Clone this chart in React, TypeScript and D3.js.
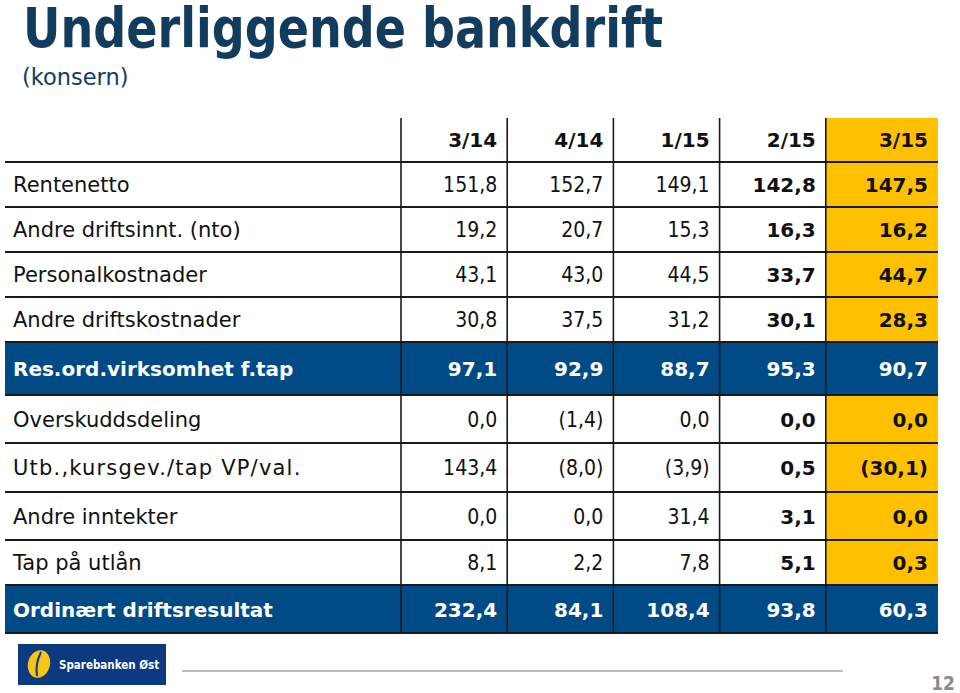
import React from "react";
import * as d3 from "d3";

const periods = ["3/14", "4/14", "1/15", "2/15", "3/15"];
const rowLabels = [
  "Rentenetto",
  "Andre driftsinnt. (nto)",
  "Personalkostnader",
  "Andre driftskostnader",
  "Res.ord.virksomhet f.tap",
  "Overskuddsdeling",
  "Utb.,kursgev./tap VP/val.",
  "Andre inntekter",
  "Tap på utlån",
  "Ordinært driftsresultat",
];
const rentenetto = [151.8, 152.7, 149.1, 142.8, 147.5];
const andreDriftsinnt = [19.2, 20.7, 15.3, 16.3, 16.2];
const personalkostnader = [43.1, 43.0, 44.5, 33.7, 44.7];
const andreDriftskostnader = [30.8, 37.5, 31.2, 30.1, 28.3];
const resOrdVirksomhet = [97.1, 92.9, 88.7, 95.3, 90.7];
const overskuddsdeling = [0.0, -1.4, 0.0, 0.0, 0.0];
const utbKursgev = [143.4, -8.0, -3.9, 0.5, -30.1];
const andreInntekter = [0.0, 0.0, 31.4, 3.1, 0.0];
const tapPaaUtlaan = [8.1, 2.2, 7.8, 5.1, 0.3];
const ordinaertDriftsresultat = [232.4, 84.1, 108.4, 93.8, 60.3];
const rowValues = [
  rentenetto,
  andreDriftsinnt,
  personalkostnader,
  andreDriftskostnader,
  resOrdVirksomhet,
  overskuddsdeling,
  utbKursgev,
  andreInntekter,
  tapPaaUtlaan,
  ordinaertDriftsresultat,
];
const highlightRows = [4, 9];

const locale = d3.formatLocale({ decimal: ",", thousands: " ", grouping: [3], currency: ["", ""] });
const fmt1 = locale.format(".1f");
const fmtVal = (v: number) => (v < 0 ? `(${fmt1(-v)})` : fmt1(v));

const W = 960;
const H = 693;
const NAVY = "#123c5e";
const BLUE = "#004a86";
const YELLOW = "#ffc000";
const SANS = "'DejaVu Sans', sans-serif";
const COND = "'DejaVu Sans Condensed', 'DejaVu Sans', sans-serif";

// layout
const tableLeft = 5;
const tableRight = 938;
const labelRight = 401;
const headerTop = 118;
const rowEdges = [162, 207, 252, 297, 342, 395, 443, 492, 540, 585, 633];
const labelSpacing = [0, 0, 0, 0, 0, 0, 1.2, 0, 0, 0];

export default function App() {
  const x = d3.scaleBand<string>().domain(periods).range([labelRight, 932]).paddingInner(0).paddingOuter(0);
  const colRight = (i: number) => (i === periods.length - 1 ? tableRight : x(periods[i + 1])!);
  const lastCol = periods[periods.length - 1];
  const boldCols = new Set([periods[3], periods[4]]);

  return (
    <svg width={W} height={H} style={{ display: "block", position: "absolute", left: 0, top: 0, background: "#fff" }} fontFamily={SANS}>
      <rect x={0} y={0} width={W} height={H} fill="#fff" />
      {/* Title */}
      <text x={23} y={47} fontSize={55} fontWeight={700} fill={NAVY} fontFamily={COND} textLength={640} lengthAdjust="spacingAndGlyphs">
        Underliggende bankdrift
      </text>
      <text x={22} y={85} fontSize={22.5} fill={NAVY}>
        (konsern)
      </text>

      {/* highlight column (yellow) */}
      <rect x={x(lastCol)!} y={headerTop} width={tableRight - x(lastCol)!} height={rowEdges[rowEdges.length - 1] - headerTop} fill={YELLOW} />

      {/* blue rows */}
      {highlightRows.map((ri) => (
        <rect key={ri} x={tableLeft} y={rowEdges[ri]} width={tableRight - tableLeft} height={rowEdges[ri + 1] - rowEdges[ri]} fill={BLUE} />
      ))}

      {/* header labels */}
      {periods.map((p, ci) => (
        <text key={p} x={colRight(ci) - 10} y={(headerTop + rowEdges[0]) / 2 + 7} textAnchor="end" fontSize={20} fontWeight={700} fill="#111">
          {p}
        </text>
      ))}

      {/* rows */}
      {rowLabels.map((label, ri) => {
        const yMid = (rowEdges[ri] + rowEdges[ri + 1]) / 2;
        const isHl = highlightRows.includes(ri);
        return (
          <g key={label}>
            <text
              x={13}
              y={yMid + 7.5}
              fontSize={isHl ? 20 : 21}
              fontWeight={isHl ? 700 : 400}
              letterSpacing={labelSpacing[ri]}
              fill={isHl ? "#fff" : "#111"}
            >
              {label}
            </text>
            {rowValues[ri].map((v, ci) => {
              const bold = isHl || boldCols.has(periods[ci]);
              return (
                <text
                  key={ci}
                  x={colRight(ci) - 10}
                  y={yMid + 7.5}
                  textAnchor="end"
                  fontSize={bold ? 20 : 21}
                  fontFamily={bold ? SANS : COND}
                  fontWeight={bold ? 700 : 400}
                  fill={isHl ? "#fff" : "#111"}
                >
                  {fmtVal(v)}
                </text>
              );
            })}
          </g>
        );
      })}

      {/* horizontal rules */}
      {rowEdges.map((y) => (
        <line key={y} x1={tableLeft} x2={tableRight} y1={y} y2={y} stroke="#1a1a1a" strokeWidth={2} />
      ))}
      {/* vertical rules */}
      {periods.map((p) => (
        <line key={p} x1={x(p)!} x2={x(p)!} y1={headerTop} y2={rowEdges[rowEdges.length - 1]} stroke="#1a1a1a" strokeWidth={1.6} />
      ))}

      {/* footer */}
      <rect x={18} y={644} width={148} height={41} fill="#0b3a80" />
      <ellipse cx={39} cy={664} rx={11} ry={14} fill="#f5c518" transform="rotate(15 39 664)" />
      <path d="M41 652 Q35 664 37 676" stroke="#0b3a80" strokeWidth={2} fill="none" />
      <text x={59} y={669} fontSize={11.5} fontWeight={700} fill="#fff" fontFamily={COND}>
        Sparebanken Øst
      </text>
      <line x1={182} x2={843} y1={671} y2={671} stroke="#a6a6a6" strokeWidth={1.5} />
      <text x={955} y={690} textAnchor="end" fontSize={19} fontWeight={700} fill="#8c8c8c" fontFamily={COND}>
        12
      </text>
    </svg>
  );
}
